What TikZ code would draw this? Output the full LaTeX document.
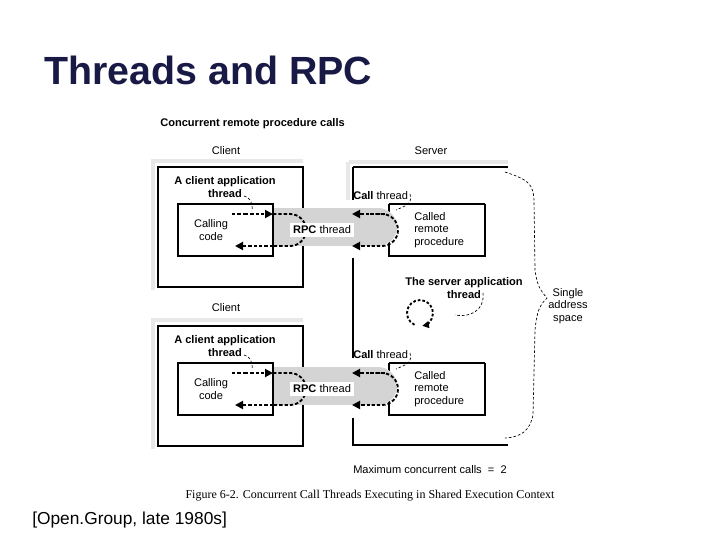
\documentclass[tikz,border=0pt]{standalone}
\usepackage{fontspec}
\setmainfont{Liberation Sans}
\newfontfamily\serif{Liberation Serif}
\usetikzlibrary{arrows.meta}
\definecolor{navy}{RGB}{25,25,70}
\definecolor{capgray}{RGB}{212,212,212}
\definecolor{lshade}{RGB}{232,232,232}
\begin{document}
\begin{tikzpicture}[x=0.75pt,y=-0.75pt,
  box/.style={draw,line width=0.9pt},
  frame/.style={draw=lshade,line width=3pt},
  lbl/.style={font=\fontsize{8.3}{9.5}\selectfont,align=center,inner sep=0pt},
  blbl/.style={lbl,font=\fontsize{8.3}{9.5}\selectfont\bfseries},
  flow/.style={line width=1.4pt,dash pattern=on 2.5pt off 1.5pt},
  tip/.style={-{Triangle[length=6pt,width=6pt]}},
  thin dash/.style={line width=0.5pt,dash pattern=on 2pt off 1.5pt}]
\useasboundingbox (0,0) rectangle (720,540);
\node[font=\fontsize{29.5}{32}\selectfont\bfseries,text=navy,anchor=west,inner sep=0pt] (title) at (44,70) {Threads and RPC};
\node[blbl,anchor=west] (sub) at (160,124) {Concurrent remote procedure calls};
\node[lbl] (cl1) at (226,151) {Client};
\node[lbl] (srv) at (431,151) {Server};
\node[lbl] (cl2) at (226,308) {Client};
% server box
\draw[frame] (349,162) -- (508,162);
\draw[frame] (348,162) -- (348,200);
\draw[box] (353,167) -- (508,167);
\draw[box] (353,167) -- (353,200);
\draw[box] (353,258) -- (353,358);
\draw[box] (353,418) -- (353,445) -- (508,445);
\foreach \dy/\n in {0/a,159/b}{
\begin{scope}[yshift=-\dy*0.75pt]
  \draw[frame] (153,290) -- (153,161) -- (303,161);
  \draw[box,fill=white] (158,167) rectangle (303,287);
  \draw[box,fill=white] (389,204) -- (389,256) -- (485,256) -- (485,204);
  \draw[line width=2pt] (389,204) -- (485,204);
  \fill[capgray] (273,208) -- (290,208) arc (-90:90:19) -- (273,246) -- cycle;
  \fill[capgray] (290,208) rectangle (378,246);
  \fill[capgray] (378,208) arc (-90:90:19) -- cycle;
  \draw[box,fill=white] (178,204) rectangle (273,256);
  \node[lbl] (cc\n) at (211,230) {Calling\\code};
  \node[lbl,anchor=west,align=left] (cr\n) at (414,230) {Called\\remote\\procedure};
  \draw[flow,tip] (245,214) -- (273,214);
  \draw[flow] (232,214) -- (245,214);
  \draw[flow,tip] (273,246) -- (235,246);
  \draw[flow] (273,214) -- (290,214) arc (-90:90:16) -- (273,246);
  \draw[flow,tip] (385,214) -- (352,214);
  \draw[flow,tip] (370,246) -- (352,246);
  \draw[flow] (370,214) -- (382,214) arc (-90:90:16) -- (370,246);
  \node[blbl,fill=white,inner sep=2pt] (rpc\n) at (322,230) {RPC \mdseries thread};
  \node[blbl] (ct\n) at (225,187) {A client application\\thread};
  \draw[thin dash] (244,196) .. controls (250,197) and (253,203) .. (252,211);
  \node[lbl,anchor=west] (call\n) at (353,196) {\bfseries Call \mdseries thread};
  \draw[thin dash] (410,194) .. controls (413,204) and (405,206) .. (396,210);
\end{scope}}
% server thread
\node[lbl] (sat) at (464,288) {\bfseries The server application\\\bfseries thread};
\draw[line width=1.4pt,dash pattern=on 2pt off 1.5pt,-{Triangle[length=5pt,width=5pt]}] (420,313) ++(115:13) arc (115:440:13);
\draw[thin dash] (483,293) .. controls (485,310) and (470,318) .. (455,315);
% brace
\draw[thin dash] (505,172) .. controls (530,180) and (533,185) .. (534,200) -- (535,270) .. controls (537,285) and (540,290) .. (547,298)
  .. controls (540,305) and (537,310) .. (535,330) -- (533,415) .. controls (530,430) and (522,437) .. (505,438);
\node[lbl] (sas) at (568,306) {Single\\address\\space};
\node[lbl,anchor=west] (max) at (353,470) {Maximum concurrent calls\ \ =\ \ 2};
\node[font=\fontsize{9}{10}\serif,inner sep=0pt] (fig) at (370,496) {Figure 6-2. Concurrent Call Threads Executing in Shared Execution Context};
\node[font=\fontsize{13}{15}\selectfont,anchor=west,inner sep=0pt] (src) at (32,520) {[Open.Group, late 1980s]};
\end{tikzpicture}
\end{document}
